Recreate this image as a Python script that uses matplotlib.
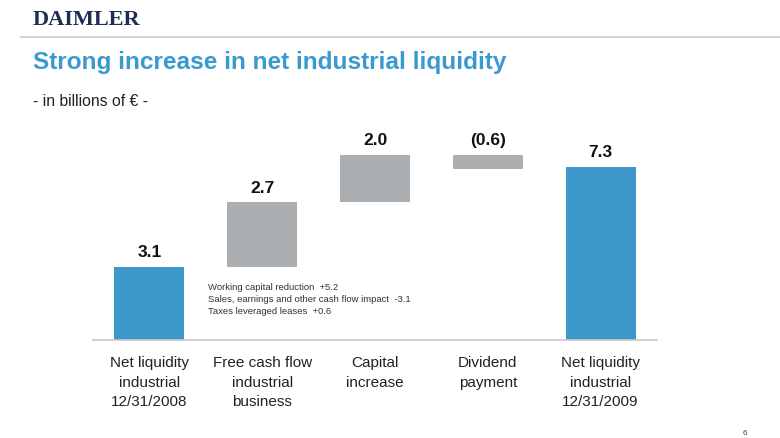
import matplotlib.pyplot as plt
import numpy as np

# Daten
categories = ["Net liquidity\nindustrial\n12/31/2008", "Free cash flow\nindustrial\nbusiness",
              "Capital\nincrease", "Dividend\npayment", "Net liquidity\nindustrial\n12/31/2009"]
values = [3.1, 2.7, 2.0, -0.6, 7.3]
value_labels = ["3.1", "2.7", "2.0", "(0.6)", "7.3"]
is_total = [True, False, False, False, True]
fcf_notes = ["Working capital reduction  +5.2",
             "Sales, earnings and other cash flow impact  -3.1",
             "Taxes leveraged leases  +0.6"]

blue = "#3d98cb"
grey = "#acafb2"
font = "Liberation Sans"

fig = plt.figure(figsize=(7.8, 4.39), dpi=100)

# Kopfbereich
fig.text(33 / 780, 1 - 20 / 439, "DAIMLER", family="Liberation Serif", fontweight="bold",
         fontsize=16, color="#1f2d55", va="center", ha="left")
fig.add_artist(plt.Line2D([21 / 780, 1], [1 - 38 / 439, 1 - 38 / 439], color="#d4d4d4", lw=1.5))
fig.text(33 / 780, 1 - 62 / 439, "Strong increase in net industrial liquidity", family=font,
         fontweight="bold", fontsize=17.6, color="#3a9ad0", va="center", ha="left")
fig.text(33 / 780, 1 - 102 / 439, "- in billions of € -", family=font, fontsize=11.3,
         color="#222222", va="center", ha="left")
fig.text(745 / 780, 1 - 434 / 439, "6", family=font, fontsize=6, color="#444444",
         ha="center", va="center")

ax = fig.add_axes([93 / 780, (439 - 341) / 439, 564 / 780, 211 / 439])

x = np.arange(len(categories))
running = 0.0
for i, (v, total) in enumerate(zip(values, is_total)):
    if total:
        bottom, height = 0, v
        running = v
        top = v
        color = blue
    else:
        bottom = running if v >= 0 else running + v
        height = abs(v)
        top = running if v < 0 else running + v
        running += v
        color = grey
    ax.bar(x[i], height, bottom=bottom, width=0.62, color=color, edgecolor="none")
    ax.annotate(value_labels[i], (x[i], top), xytext=(0, 5.5), textcoords="offset points",
                ha="center", va="bottom", family=font, fontweight="bold", fontsize=12.5,
                color="#111111")

ax.text(0.52, 2.45, "\n".join(fcf_notes), family=font, fontsize=6.8, color="#333333",
        ha="left", va="top", linespacing=1.45)

ax.set_xlim(-0.5, 4.5)
ax.set_ylim(0, 8.9)
ax.set_xticks(x)
ax.set_xticklabels(categories, family=font, fontsize=11, color="#222222", linespacing=1.5)
ax.tick_params(axis="x", length=0, pad=11)
ax.set_yticks([])
for s in ["top", "left", "right"]:
    ax.spines[s].set_visible(False)
ax.spines["bottom"].set_color("#c8c8c8")
ax.spines["bottom"].set_linewidth(1.2)

plt.savefig("out.png", dpi=100)
